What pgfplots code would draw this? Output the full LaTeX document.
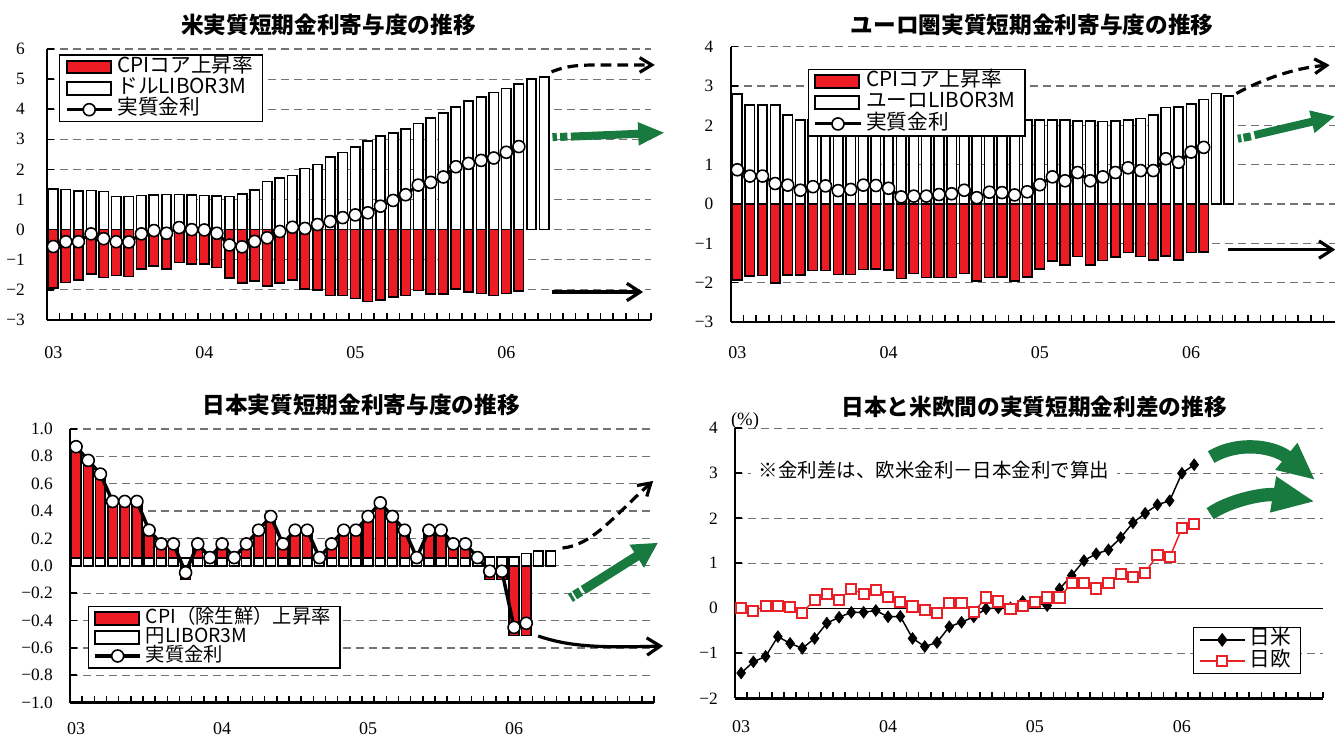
\documentclass[border=0pt]{standalone}
\usepackage{fontspec}
\setmainfont{Liberation Serif}
\usepackage{pgfplots}
\pgfplotsset{compat=1.18}
\usepackage{pgfplotstable}
\usetikzlibrary{arrows.meta}
\newfontfamily\jp{Noto Sans CJK JP}
\definecolor{cpired}{RGB}{237,28,36}
\definecolor{arrgreen}{RGB}{24,122,62}
\definecolor{sqred}{RGB}{232,32,40}

\pgfplotstableread{
m libor cpi real
0 1.35 -1.93 -0.56
1 1.34 -1.75 -0.40
2 1.29 -1.68 -0.40
3 1.30 -1.48 -0.14
4 1.27 -1.59 -0.30
5 1.10 -1.52 -0.40
6 1.10 -1.55 -0.41
7 1.14 -1.30 -0.14
8 1.16 -1.20 -0.03
9 1.17 -1.30 -0.12
10 1.17 -1.09 0.07
11 1.15 -1.15 0.00
12 1.13 -1.15 -0.01
13 1.12 -1.25 -0.12
14 1.10 -1.61 -0.51
15 1.18 -1.77 -0.57
16 1.31 -1.71 -0.39
17 1.60 -1.88 -0.27
18 1.71 -1.77 -0.06
19 1.80 -1.68 0.08
20 2.03 -1.97 0.04
21 2.17 -2.01 0.17
22 2.41 -2.19 0.27
23 2.56 -2.18 0.40
24 2.75 -2.28 0.49
25 2.94 -2.38 0.56
26 3.12 -2.34 0.78
27 3.22 -2.24 0.97
28 3.35 -2.19 1.16
29 3.52 -2.02 1.48
30 3.70 -2.14 1.57
31 3.88 -2.14 1.75
32 4.07 -1.97 2.09
33 4.28 -2.07 2.20
34 4.41 -2.12 2.30
35 4.55 -2.19 2.38
36 4.69 -2.12 2.57
37 4.83 -2.04 2.76
38 5.01 nan nan
39 5.08 nan nan
}\usdata

\pgfplotstableread{
m libor cpi real
0 2.79 -1.93 0.87
1 2.51 -1.83 0.71
2 2.51 -1.82 0.71
3 2.51 -2.01 0.52
4 2.26 -1.80 0.48
5 2.13 -1.80 0.35
6 2.13 -1.69 0.44
7 2.15 -1.69 0.46
8 2.13 -1.79 0.34
9 2.16 -1.79 0.37
10 2.15 -1.67 0.48
11 2.13 -1.66 0.47
12 2.08 -1.68 0.40
13 2.07 -1.89 0.18
14 2.07 -1.77 0.20
15 2.07 -1.87 0.20
16 2.11 -1.87 0.24
17 2.13 -1.87 0.26
18 2.12 -1.77 0.35
19 2.12 -1.96 0.16
20 2.17 -1.87 0.30
21 2.15 -1.86 0.29
22 2.16 -1.96 0.23
23 2.14 -1.86 0.31
24 2.13 -1.66 0.49
25 2.13 -1.45 0.69
26 2.13 -1.55 0.59
27 2.11 -1.33 0.80
28 2.11 -1.55 0.59
29 2.10 -1.44 0.69
30 2.11 -1.34 0.80
31 2.13 -1.23 0.92
32 2.17 -1.33 0.85
33 2.26 -1.43 0.85
34 2.45 -1.32 1.15
35 2.47 -1.42 1.06
36 2.54 -1.23 1.32
37 2.66 -1.22 1.44
38 2.81 nan nan
39 2.75 nan nan
}\eudata

\pgfplotstableread{
m libor cpi real
0 0.055 0.86 0.87
1 0.055 0.76 0.77
2 0.055 0.66 0.67
3 0.055 0.46 0.47
4 0.055 0.46 0.47
5 0.055 0.46 0.47
6 0.055 0.26 0.26
7 0.055 0.16 0.16
8 0.055 0.16 0.16
9 0.055 -0.10 -0.05
10 0.055 0.16 0.16
11 0.055 0 0.06
12 0.055 0.16 0.16
13 0.055 0 0.06
14 0.055 0.16 0.16
15 0.055 0.26 0.26
16 0.055 0.36 0.36
17 0.055 0.16 0.16
18 0.055 0.26 0.26
19 0.055 0.26 0.26
20 0.055 0 0.06
21 0.055 0.16 0.16
22 0.055 0.26 0.26
23 0.055 0.26 0.26
24 0.055 0.36 0.36
25 0.055 0.46 0.46
26 0.055 0.36 0.36
27 0.055 0.26 0.26
28 0.055 0 0.06
29 0.055 0.26 0.26
30 0.055 0.26 0.26
31 0.055 0.16 0.16
32 0.055 0.16 0.16
33 0.055 0 0.06
34 0.065 -0.10 -0.04
35 0.065 -0.10 -0.04
36 0.066 -0.51 -0.45
37 0.09 -0.51 -0.42
38 0.11 nan nan
39 0.11 nan nan
}\jpdata

\pgfplotstableread{
m us eu
0 -1.44 0.00
1 -1.19 -0.06
2 -1.07 0.05
3 -0.63 0.05
4 -0.78 0.02
5 -0.89 -0.10
6 -0.67 0.19
7 -0.33 0.31
8 -0.20 0.19
9 -0.09 0.43
10 -0.09 0.32
11 -0.05 0.40
12 -0.19 0.26
13 -0.18 0.13
14 -0.67 0.04
15 -0.85 -0.04
16 -0.76 -0.11
17 -0.41 0.11
18 -0.31 0.11
19 -0.19 -0.09
20 -0.01 0.24
21 0.01 0.15
22 0.01 -0.01
23 0.15 0.05
24 0.13 0.13
25 0.06 0.24
26 0.43 0.24
27 0.73 0.56
28 1.06 0.56
29 1.21 0.44
30 1.30 0.56
31 1.57 0.76
32 1.90 0.70
33 2.11 0.79
34 2.30 1.19
35 2.39 1.13
36 3.00 1.78
37 3.19 1.87
}\spdata

\pgfplotsset{
  panel/.style={
    scale only axis, clip=false,
    anchor=south west,
    axis x line*=bottom, axis y line*=left,
    axis line style={line width=1.9pt, black},
    xmin=-0.5, xmax=47.5,
    xtick={0,12,24,36}, xticklabels={03,04,05,06},
    minor xtick={-0.5,0.5,...,47.5},
    tick align=inside,
    major tick length=0pt,
    minor tick length=5pt,
    every tick/.style={black, line width=1.2pt},
    ymajorgrids,
    major grid style={dash pattern=on 6pt off 3.75pt, black!55, line width=0.9pt},
    yticklabel style={font=\fontsize{13pt}{14pt}\selectfont, anchor=east, inner sep=0pt},
    xticklabel style={font=\fontsize{13.5pt}{14pt}\selectfont, anchor=center, inner sep=0pt},
    legend cell align=left,
    legend style={draw=black, line width=0.9pt, fill=white,
      font=\jp\fontsize{15.5pt}{17pt}\selectfont,
      inner xsep=4pt, inner ysep=2.5pt, row sep=3pt,
      nodes={inner xsep=3pt, inner ysep=1.5pt, text height=0.88em, text depth=0.12em}},
  },
  redbar/.style={ybar, bar width=0.75, bar shift=0pt, fill=cpired, draw=black, line width=1.2pt,
    legend image code/.code={\draw[fill=cpired, draw=black, line width=1.5pt] (0pt,-4.8pt) rectangle (33pt,4.8pt);}},
  whitebar/.style={ybar, bar width=0.75, bar shift=0pt, fill=white, draw=black, line width=1.2pt,
    legend image code/.code={\draw[fill=white, draw=black, line width=1.5pt] (0pt,-4.8pt) rectangle (33pt,4.8pt);}},
  realline/.style={black, line width=2.3pt, mark=*, mark size=4.5pt,
    mark options={fill=white, draw=black, line width=1.2pt},
    legend image code/.code={\draw[black, line width=2.3pt] (0pt,0pt) -- (34pt,0pt);
      \draw[black, fill=white, line width=1.2pt] (17pt,0pt) circle (4.5pt);}},
  usline/.style={black, line width=1.1pt, mark=diamond*, mark size=4.4pt,
    mark options={fill=black, draw=black, line width=0.5pt},
    legend image code/.code={\draw[black, line width=1.1pt] (0pt,0pt) -- (34pt,0pt);
      \fill[black] (17pt,4.4pt) -- (20.3pt,0pt) -- (17pt,-4.4pt) -- (13.7pt,0pt) -- cycle;}},
  euline/.style={sqred, line width=1.1pt, mark=square*, mark size=3.8pt,
    mark options={fill=white, draw=sqred, line width=1.5pt},
    legend image code/.code={\draw[sqred, line width=1.1pt] (0pt,0pt) -- (34pt,0pt);
      \draw[sqred, fill=white, line width=1.5pt] (13.2pt,-3.8pt) rectangle (20.8pt,3.8pt);}},
}

\begin{document}
\begin{tikzpicture}
\useasboundingbox (0pt,0pt) rectangle (1001.25pt,-552.75pt);

% ---------- Panel 1: US ----------
\begin{axis}[panel, at={(35.25pt,-240pt)}, width=453pt, height=203.25pt,
  ymin=-3, ymax=6, ytick={-3,-2,-1,0,1,2,3,4,5,6}, minor ytick={-3,-2,-1,0,1,2,3,4,5,6},
  yticklabels={−3,−2,−1,0,1,2,3,4,5,6},
  yticklabel style={xshift=-16.5pt}, xticklabel style={yshift=-24.75pt},
  legend style={at={(0.02,0.98)}, anchor=north west}]
\addplot[redbar] table[x=m, y=cpi] {\usdata};
\addlegendentry{CPIコア上昇率}
\addplot[whitebar] table[x=m, y=libor] {\usdata};
\addlegendentry{ドルLIBOR3M}
\addplot[realline] table[x=m, y=real] {\usdata};
\addlegendentry{実質金利}
\draw[black, line width=2.4pt, dash pattern=on 8pt off 4.5pt, -{Straight Barb[length=9pt,width=11pt]}]
  (axis cs:39.6,5.24) .. controls (axis cs:40.8,5.45) and (axis cs:41.8,5.47) .. (axis cs:43.5,5.47) -- (axis cs:47.8,5.47);
\draw[arrgreen, line width=6pt] (axis cs:39.67,3.07) -- (axis cs:40.02,3.08);
\draw[arrgreen, line width=6pt] (axis cs:40.28,3.08) -- (axis cs:40.86,3.09);
\draw[arrgreen, line width=6pt, -{Triangle[length=20pt,width=16pt]}] (axis cs:41.13,3.09) -- (axis cs:48.6,3.22);
\draw[black, line width=2.4pt, -{Straight Barb[length=10pt,width=13pt]}] (axis cs:39.63,-2.07) -- (axis cs:46.87,-2.07);
\end{axis}

% ---------- Panel 2: Euro ----------
\begin{axis}[panel, at={(548.25pt,-241.5pt)}, width=453.75pt, height=206.5pt,
  ymin=-3, ymax=4, ytick={-3,-2,-1,0,1,2,3,4}, minor ytick={-3,-2,-1,0,1,2,3,4},
  yticklabels={−3,−2,−1,0,1,2,3,4},
  yticklabel style={xshift=-13pt}, xticklabel style={yshift=-23.25pt},
  legend style={at={(0.127,0.92)}, anchor=north west}]
\addplot[redbar] table[x=m, y=cpi] {\eudata};
\addlegendentry{CPIコア上昇率}
\addplot[whitebar] table[x=m, y=libor] {\eudata};
\addlegendentry{ユーロLIBOR3M}
\addplot[realline] table[x=m, y=real] {\eudata};
\addlegendentry{実質金利}
\draw[black, line width=2.4pt, dash pattern=on 8pt off 4.5pt, -{Straight Barb[length=9pt,width=11pt]}]
  (axis cs:39.6,2.81) .. controls (axis cs:41.05,3.07) and (axis cs:43.87,3.46) .. (axis cs:47.0,3.53);
\draw[arrgreen, line width=6pt] (axis cs:39.71,1.66) -- (axis cs:39.98,1.675);
\draw[arrgreen, line width=6pt] (axis cs:40.16,1.685) -- (axis cs:40.75,1.72);
\draw[arrgreen, line width=6pt, -{Triangle[length=18pt,width=16pt]}] (axis cs:41.03,1.75) -- (axis cs:47.44,2.23);
\draw[black, line width=2.4pt, -{Straight Barb[length=10pt,width=13pt]}] (axis cs:38.92,-1.16) -- (axis cs:47.44,-1.16);
\end{axis}

% ---------- Panel 3: Japan ----------
\begin{axis}[panel, at={(52.5pt,-527pt)}, width=438pt, height=205.3pt,
  ymin=-1, ymax=1, ytick={-1,-0.8,-0.6,-0.4,-0.2,0,0.2,0.4,0.6,0.8,1},
  minor ytick={-1,-0.8,-0.6,-0.4,-0.2,0,0.2,0.4,0.6,0.8,1},
  yticklabels={−1.0,−0.8,−0.6,−0.4,−0.2,0.0,0.2,0.4,0.6,0.8,1.0},
  yticklabel style={xshift=-12.75pt},
  xticklabel style={yshift=-19.5pt},
  legend style={at={(0.03,0.353)}, anchor=north west, row sep=1pt,
    font=\jp\fontsize{14.5pt}{16pt}\selectfont}]
\addplot[redbar, bar width=0.8] table[x=m, y=cpi] {\jpdata};
\addlegendentry{CPI（除生鮮）上昇率}
\addplot[whitebar, bar width=0.8] table[x=m, y=libor] {\jpdata};
\addlegendentry{円LIBOR3M}
\addplot[realline, line width=2.6pt] table[x=m, y=real] {\jpdata};
\addlegendentry{実質金利}
\draw[black, line width=2.4pt, dash pattern=on 8pt off 4.5pt, -{Straight Barb[length=9pt,width=11pt]}]
  (axis cs:39.98,0.13) .. controls (axis cs:42.47,0.152) and (axis cs:44.28,0.37) .. (axis cs:47.43,0.62);
\draw[arrgreen, line width=7pt] (axis cs:40.63,-0.235) -- (axis cs:40.84,-0.223);
\draw[arrgreen, line width=7pt] (axis cs:40.98,-0.215) -- (axis cs:41.47,-0.188);
\draw[arrgreen, line width=7pt, -{Triangle[length=19pt,width=19pt]}] (axis cs:41.68,-0.177) -- (axis cs:47.84,0.169);
\draw[black, line width=2.4pt, -{Straight Barb[length=10pt,width=13pt]}]
  (axis cs:37.98,-0.513) .. controls (axis cs:40.5,-0.59) and (axis cs:43,-0.60) .. (axis cs:48.25,-0.586);
\end{axis}

% ---------- Panel 4: spreads ----------
\begin{axis}[panel, at={(551.25pt,-523.7pt)}, width=440.8pt, height=202.5pt,
  ymin=-2, ymax=4, ytick={-2,-1,0,1,2,3,4}, minor ytick={-2,-1,0,1,2,3,4},
  yticklabels={−2,−1,0,1,2,3,4},
  yticklabel style={xshift=-12.75pt}, xticklabel style={yshift=-21pt},
  legend style={at={(0.779,0.263)}, anchor=north west}]
\draw[black, line width=1.1pt] (axis cs:-0.5,0) -- (axis cs:47.5,0);
\addplot[usline] table[x=m, y=us] {\spdata};
\addlegendentry{日米}
\addplot[euline] table[x=m, y=eu] {\spdata};
\addlegendentry{日欧}
\draw[arrgreen, line width=10pt, -{Triangle[length=28pt,width=24pt]}]
  (axis cs:38.39,3.36) .. controls (axis cs:40.76,3.74) and (axis cs:43.62,3.58) .. (axis cs:46.88,2.85);
\draw[arrgreen, line width=10pt, -{Triangle[length=32pt,width=25pt]}]
  (axis cs:38.31,2.10) .. controls (axis cs:39.94,2.41) and (axis cs:42.8,2.56) .. (axis cs:46.88,2.37);
\end{axis}

% ---------- titles and notes ----------
\node[font=\jp\bfseries\fontsize{17pt}{18pt}\selectfont] at (246.4pt,-18.75pt) {米実質短期金利寄与度の推移};
\node[font=\jp\bfseries\fontsize{17pt}{18pt}\selectfont] at (774pt,-18.75pt) {ユーロ圏実質短期金利寄与度の推移};
\node[font=\jp\bfseries\fontsize{17pt}{18pt}\selectfont] at (270.75pt,-303.75pt) {日本実質短期金利寄与度の推移};
\node[font=\jp\bfseries\fontsize{17pt}{18pt}\selectfont] at (775.5pt,-305.25pt) {日本と米欧間の実質短期金利差の推移};
\node[font=\fontsize{14pt}{15pt}\selectfont] at (558.75pt,-315.75pt) {(\%)};
\node[fill=white, inner xsep=6pt, inner ysep=1pt, font=\jp\fontsize{14.6pt}{16pt}\selectfont] at (700.5pt,-352.5pt) {※金利差は、欧米金利－日本金利で算出};
\end{tikzpicture}
\end{document}
